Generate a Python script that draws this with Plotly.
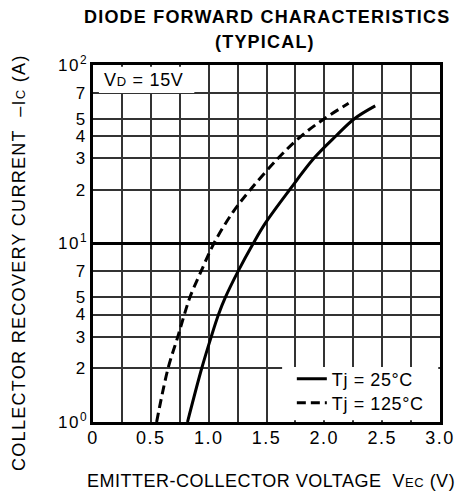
import plotly.graph_objects as go

# Data
I_25 = [1, 2, 3, 4, 5, 7, 10, 13, 20, 30, 40, 50, 59]
V_25 = [0.817, 0.94, 1.022, 1.085, 1.145, 1.255, 1.385, 1.49, 1.70, 1.91, 2.10, 2.26, 2.44]

I_125 = [1, 2, 3, 4, 5, 7, 10, 15, 20, 30, 40, 50, 61]
V_125 = [0.55, 0.649, 0.733, 0.79, 0.838, 0.935, 1.045, 1.21, 1.36, 1.60, 1.80, 2.0, 2.21]

y_tickvals = [1, 2, 3, 4, 5, 7, 10, 20, 30, 40, 50, 70, 100]
y_ticklabels = ["10|0", "2", "3", "4", "5", "7", "10|1", "2", "3", "4", "5", "7", "10|2"]
x_tickvals = [0, 0.5, 1.0, 1.5, 2.0, 2.5, 3.0]
x_ticklabels = ["0", "0.5", "1.0", "1.5", "2.0", "2.5", "3.0"]

FONT = "Liberation Sans, Arial, Helvetica, sans-serif"


def sp(t, ls=1.5, size=None, bold=False):
    st = f"letter-spacing:{ls}px"
    if size:
        st += f";font-size:{size}px"
    s = f"<span style='{st}'>{t}</span>"
    return f"<b>{s}</b>" if bold else s


def tick_label(lbl):
    if "|" in lbl:
        base, exp = lbl.split("|")
        return sp(base) + f"<sup>{exp}</sup>"
    return sp(lbl)


fig = go.Figure()
fig.add_trace(go.Scatter(x=V_25, y=I_25, mode="lines",
                         name=sp("Tj = 25°C", 0.6), legend="legend",
                         line=dict(color="black", width=3, shape="spline", smoothing=1.0)))
fig.add_trace(go.Scatter(x=V_125, y=I_125, mode="lines",
                         name=sp("Tj = 125°C", 0.6), legend="legend2",
                         line=dict(color="black", width=3, dash="9px,5px", shape="spline", smoothing=1.0)))

leg_common = dict(x=0.573, xanchor="left", yanchor="middle",
                  bgcolor="rgba(0,0,0,0)", borderwidth=0, font=dict(size=18))
fig.update_layout(
    width=467, height=495,
    margin=dict(l=93, r=18, t=65, b=73),
    paper_bgcolor="white", plot_bgcolor="white",
    font=dict(family=FONT, size=18, color="black"),
    showlegend=True,
    legend=dict(y=0.1204, **leg_common),
    legend2=dict(y=0.0532, **leg_common),
)

fig.update_xaxes(range=[0, 3], tickmode="array", tickvals=x_tickvals,
                 ticktext=[tick_label(t) for t in x_ticklabels],
                 showgrid=True, gridcolor="#333", gridwidth=1.5,
                 minor=dict(tickmode="linear", tick0=0, dtick=0.25, showgrid=True,
                            gridcolor="#333", gridwidth=1.5, ticks=""),
                 showline=True, linecolor="black", linewidth=3, mirror=True,
                 ticks="", zeroline=False, tickfont=dict(size=18),
                 ticklabelstandoff=-3)
fig.update_yaxes(type="log", range=[0, 2], tickmode="array", tickvals=y_tickvals,
                 ticktext=[tick_label(t) for t in y_ticklabels],
                 showgrid=True, gridcolor="#333", gridwidth=1.5,
                 showline=True, linecolor="black", linewidth=3, mirror=True,
                 ticks="", zeroline=False, tickfont=dict(size=17))

# thick decade line at 10
fig.add_shape(type="line", xref="paper", yref="y", x0=0, x1=1, y0=10, y1=10,
              line=dict(color="black", width=3))
# white background for legend area
fig.add_shape(type="rect", xref="paper", yref="paper", x0=0.545, x1=0.995,
              y0=0.005, y1=0.154, fillcolor="white", line=dict(width=0), layer="above")
# white background for VD label
fig.add_shape(type="rect", xref="paper", yref="paper", x0=0.017, x1=0.292,
              y0=0.9216, y1=0.995, fillcolor="white", line=dict(width=0), layer="above")

fig.add_annotation(xref="paper", yref="paper", x=0.1475, y=0.958, xanchor="center", yanchor="middle",
                   text=sp("V", 0.7) + sp("D", 0.7, 13) + sp(" = 15V", 0.7), showarrow=False,
                   font=dict(size=18))

# titles
fig.add_annotation(xref="paper", yref="paper", x=0.5, y=1.134, xanchor="center", yanchor="middle",
                   text=sp("DIODE FORWARD CHARACTERISTICS", 1.2, bold=True), showarrow=False,
                   font=dict(size=18))
fig.add_annotation(xref="paper", yref="paper", x=0.497, y=1.064, xanchor="center", yanchor="middle",
                   text=sp("(TYPICAL)", 1.2, bold=True), showarrow=False,
                   font=dict(size=18))

fig.add_annotation(xref="paper", yref="paper", x=-0.2135, y=0.448, xanchor="center", yanchor="middle",
                   textangle=-90, showarrow=False,
                   text=sp("COLLECTOR RECOVERY CURRENT  \u2013I", 1.3) + sp("C", 1.3, 13) + sp(" (A)", 1.3),
                   font=dict(size=18))
fig.add_annotation(xref="paper", yref="paper", x=0.5126, y=-0.165, xanchor="center", yanchor="middle",
                   showarrow=False,
                   text=sp("EMITTER-COLLECTOR VOLTAGE  V", 0.5) + sp("EC", 0.5, 13) + sp(" (V)", 0.5),
                   font=dict(size=18))

fig.write_html("out.html", config={"displayModeBar": False},
               post_script="document.body.style.margin='0px';")
